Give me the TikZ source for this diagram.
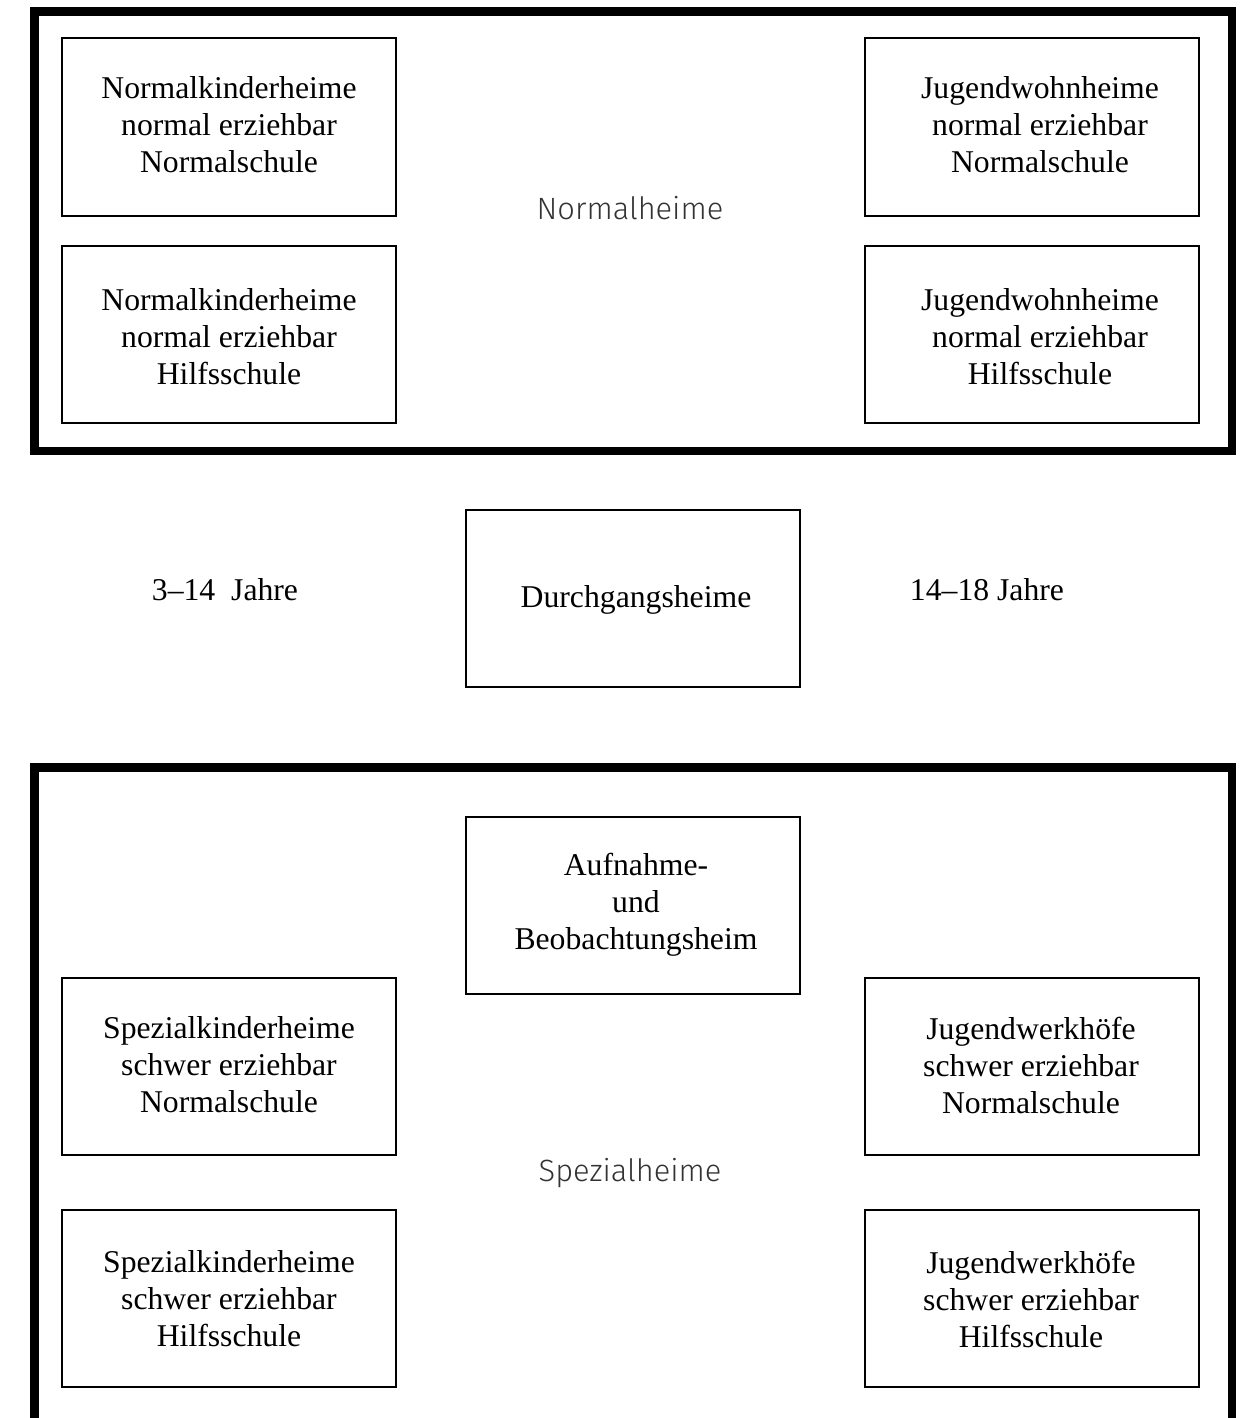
\documentclass[tikz,border=0pt]{standalone}
\usepackage{fontspec}
\setmainfont{Liberation Serif}
\newfontfamily\labfont{Fira Sans Light}
\definecolor{labgray}{HTML}{333333}
\tikzset{
  frame/.style={draw=black, line width=8.7pt},
  heimbox/.style={draw=black, line width=2pt, minimum width=334pt, minimum height=177pt, inner sep=0pt, anchor=center},
  heimtext/.style={align=center, font=\fontsize{31.7pt}{37pt}\selectfont, inner sep=0pt, anchor=center},
  grouplabel/.style={font=\labfont\fontsize{30.8pt}{36pt}\selectfont, text=labgray, inner sep=0pt, anchor=center},
  agelabel/.style={font=\fontsize{31.7pt}{37pt}\selectfont, inner sep=0pt, anchor=center}
}
\begin{document}
\begin{tikzpicture}[x=1pt,y=-1pt]
\useasboundingbox (0,0) rectangle (1246,1418);
\clip (0,0) rectangle (1246,1418);
% frames
\draw[frame] (34.5,11.5) rectangle (1232,451);
\draw[frame] (34.5,767.7) rectangle (1232,1440);
% top group
\node[heimbox] (nk1) at (229,127) {};
\node[heimtext] (nk1t) at (229,125) {Normalkinderheime\\normal erziehbar\\Normalschule};
\node[heimbox] (nk2) at (229,334) {};
\node[heimtext] (nk2t) at (229,337) {Normalkinderheime\\normal erziehbar\\Hilfsschule};
\node[heimbox] (jw1) at (1031.5,127) {};
\node[heimtext] (jw1t) at (1040,125) {Jugendwohnheime\\normal erziehbar\\Normalschule};
\node[heimbox] (jw2) at (1031.5,334) {};
\node[heimtext] (jw2t) at (1040,337) {Jugendwohnheime\\normal erziehbar\\Hilfsschule};
\node[grouplabel] (normal) at (630,208) {Normalheime};
% middle
\node[heimbox] (dg) at (633,598) {};
\node[heimtext] (dgt) at (636,600) {Durchgangsheime};
\node[agelabel] (age1) at (225,590) {3–14\ \ Jahre};
\node[agelabel] (age2) at (987,590) {14–18 Jahre};
% bottom group
\node[heimbox] (ab) at (633,905) {};
\node[heimtext] (abt) at (636,905) {Aufnahme-\\und\\Beobachtungsheim};
\node[heimbox] (sk1) at (229,1066) {};
\node[heimtext] (sk1t) at (229,1065) {Spezialkinderheime\\schwer erziehbar\\Normalschule};
\node[heimbox] (sk2) at (229,1298) {};
\node[heimtext] (sk2t) at (229,1299) {Spezialkinderheime\\schwer erziehbar\\Hilfsschule};
\node[heimbox] (jh1) at (1031.5,1066) {};
\node[heimtext] (jh1t) at (1031,1065) {Jugendwerkhöfe\\schwer erziehbar\\Normalschule};
\node[heimbox] (jh2) at (1031.5,1298) {};
\node[heimtext] (jh2t) at (1031,1299) {Jugendwerkhöfe\\schwer erziehbar\\Hilfsschule};
\node[grouplabel] (spezial) at (630,1173) {Spezialheime};
\end{tikzpicture}
\end{document}
